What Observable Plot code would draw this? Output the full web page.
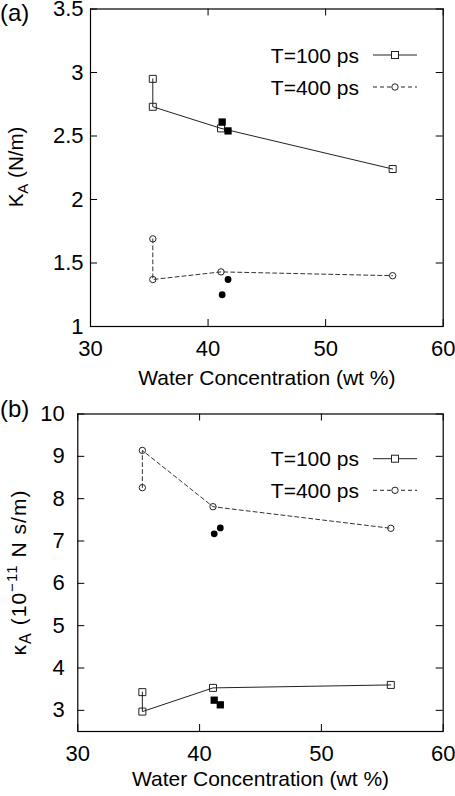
<!DOCTYPE html>
<html><head><meta charset="utf-8">
<script src="https://cdn.jsdelivr.net/npm/d3@7"></script>
<script src="https://cdn.jsdelivr.net/npm/@observablehq/plot@0.6"></script>
<style>
body{margin:0;background:#fff;}
#wrap{position:relative;width:455px;height:796px;font-family:"Liberation Sans",Arial,sans-serif;}
.panel{position:absolute;left:0;}
.tag{position:absolute;left:0;font-size:24px;line-height:1;}
</style></head><body><div id="wrap"></div>
<script>
const xTicks = [30, 40, 50, 60];
const yTicksA = [1, 1.5, 2, 2.5, 3, 3.5];
const yTicksB = [3, 4, 5, 6, 7, 8, 9, 10];
const legendLabels = ["T=100 ps", "T=400 ps"];
const xLabel = "Water Concentration (wt %)";

// Panel (a): K_A
const aX100 = [35.3, 35.3, 41.1, 55.7];
const aY100 = [2.95, 2.73, 2.56, 2.24];
const aX400 = [35.3, 35.3, 41.1, 55.7];
const aY400 = [1.69, 1.37, 1.43, 1.40];
const aXsqFilled = [41.2, 41.7];
const aYsqFilled = [2.61, 2.54];
const aXcFilled = [41.7, 41.2];
const aYcFilled = [1.37, 1.25];

// Panel (b): kappa_A
const bX100 = [35.3, 35.3, 41.1, 55.7];
const bY100 = [3.43, 2.97, 3.53, 3.60];
const bX400 = [35.3, 35.3, 41.1, 55.7];
const bY400 = [8.26, 9.14, 7.81, 7.30];
const bXsqFilled = [41.2, 41.7];
const bYsqFilled = [3.24, 3.13];
const bXcFilled = [41.2, 41.7];
const bYcFilled = [7.17, 7.31];

const rows = (xs, ys) => xs.map((x, i) => ({x, y: ys[i]}));
const FONT = '"Liberation Sans", Arial, sans-serif';
const W = 455, H = 398;

function panel(cfg) {
  const pw = W - cfg.ml - cfg.mr, ph = H - cfg.mt - cfg.mb;
  const s100 = rows(cfg.x100, cfg.y100), s400 = rows(cfg.x400, cfg.y400);
  const svg = Plot.plot({
    width: W, height: H,
    marginLeft: cfg.ml, marginRight: cfg.mr, marginTop: cfg.mt, marginBottom: cfg.mb,
    style: {fontFamily: FONT, fontSize: "22px", color: "black", background: "white", overflow: "visible"},
    x: {domain: [30, 60], ticks: xTicks},
    y: {domain: cfg.ydomain, ticks: cfg.yticks},
    marks: [
      Plot.ruleY(cfg.yticks, {insetRight: pw - 7, stroke: "black"}),
      Plot.ruleY(cfg.yticks, {insetLeft: pw - 7, stroke: "black"}),
      Plot.ruleX(xTicks, {insetTop: ph - 7, stroke: "black"}),
      Plot.ruleX(xTicks, {insetBottom: ph - 7, stroke: "black"}),
      Plot.frame({stroke: "black", strokeWidth: 1.2}),
      Plot.axisX({ticks: xTicks, tickSize: 0, tickPadding: 14, label: null}),
      Plot.axisY({ticks: cfg.yticks, tickSize: 0, tickPadding: cfg.ypad, label: null, tickFormat: d => String(d)}),
      Plot.line(s100, {x: "x", y: "y", stroke: "#222", strokeWidth: 1}),
      Plot.line(s400, {x: "x", y: "y", stroke: "#333", strokeWidth: 1, strokeDasharray: "4,3"}),
      Plot.dot(s100, {x: "x", y: "y", symbol: "square", r: 3.95, stroke: "#222", fill: "none", strokeWidth: 1}),
      Plot.dot(s400, {x: "x", y: "y", symbol: "circle", r: 3.2, stroke: "#222", fill: "none", strokeWidth: 1}),
      Plot.dot(rows(cfg.xsq, cfg.ysq), {x: "x", y: "y", symbol: "square", r: 4.1, fill: "black", stroke: "none"}),
      Plot.dot(rows(cfg.xc, cfg.yc), {x: "x", y: "y", symbol: "circle", r: 3.4, fill: "black", stroke: "none"}),
      Plot.text([xLabel], {text: d => d, frameAnchor: "bottom", dy: cfg.xlabDy, lineAnchor: "middle", fontSize: 21})
    ]
  });
  const g = d3.select(svg);
  // legend
  const lg = g.append("g").attr("font-family", FONT).attr("font-size", 21);
  cfg.legendY.forEach((ly, i) => {
    lg.append("text").attr("x", 359).attr("y", ly).attr("text-anchor", "end")
      .attr("dominant-baseline", "central").text(legendLabels[i]);
    lg.append("line").attr("x1", 373).attr("x2", 417).attr("y1", ly).attr("y2", ly)
      .attr("stroke", "#222").attr("stroke-width", 1)
      .attr("stroke-dasharray", i === 1 ? "4,3" : null);
    if (i === 0) lg.append("rect").attr("x", 391.5).attr("y", ly - 3.5).attr("width", 7).attr("height", 7)
      .attr("fill", "white").attr("stroke", "#222");
    else lg.append("circle").attr("cx", 395).attr("cy", ly).attr("r", 3.2)
      .attr("fill", "white").attr("stroke", "#222");
  });
  // y label
  const yl = g.append("text").attr("font-family", FONT).attr("font-size", cfg.ylfs)
    .attr("text-anchor", "middle")
    .attr("transform", `translate(${cfg.ylx},${cfg.yly}) rotate(-90)`);
  if (cfg.ylen) yl.attr("textLength", cfg.ylen).attr("lengthAdjust", "spacing");
  cfg.ylab(yl);
  return svg;
}

const wrap = document.getElementById("wrap");

const pa = panel({
  ml: 90, mr: 12.3, mt: 8.5, mb: 72, ydomain: [1, 3.5], yticks: yTicksA, ypad: 7,
  x100: aX100, y100: aY100, x400: aX400, y400: aY400,
  xsq: aXsqFilled, ysq: aYsqFilled, xc: aXcFilled, yc: aYcFilled,
  xlabDy: 51.5, legendY: [55, 87], ylx: 23, yly: 167, ylfs: 20.5,
  ylab: t => {
    t.append("tspan").text("K");
    t.append("tspan").attr("dy", 5).attr("font-size", 15).text("A");
    t.append("tspan").attr("dy", -5).text(" (N/m)");
  }
});
const pb = panel({
  ml: 77.3, mr: 12.3, mt: 15.5, mb: 65, ydomain: [2.5, 10], yticks: yTicksB, ypad: 13,
  x100: bX100, y100: bY100, x400: bX400, y400: bY400,
  xsq: bXsqFilled, ysq: bYsqFilled, xc: bXcFilled, yc: bYcFilled,
  xlabDy: 48, legendY: [60.7, 92.3], ylx: 26, yly: 175, ylfs: 21, ylen: 165,
  ylab: t => {
    t.append("tspan").text("κ");
    t.append("tspan").attr("dy", 5).attr("font-size", 16).text("A");
    t.append("tspan").attr("dy", -5).text(" (10");
    t.append("tspan").attr("dy", -9).attr("font-size", 15).text("−11");
    t.append("tspan").attr("dy", 9).text(" N s/m)");
  }
});

const da = document.createElement("div"); da.className = "panel"; da.style.top = "0px"; da.appendChild(pa);
const db = document.createElement("div"); db.className = "panel"; db.style.top = "398px"; db.appendChild(pb);
wrap.appendChild(da); wrap.appendChild(db);

const ta = document.createElement("div"); ta.className = "tag"; ta.style.top = "1px"; ta.textContent = "(a)";
const tb = document.createElement("div"); tb.className = "tag"; tb.style.top = "397px"; tb.textContent = "(b)";
wrap.appendChild(ta); wrap.appendChild(tb);
</script></body></html>
